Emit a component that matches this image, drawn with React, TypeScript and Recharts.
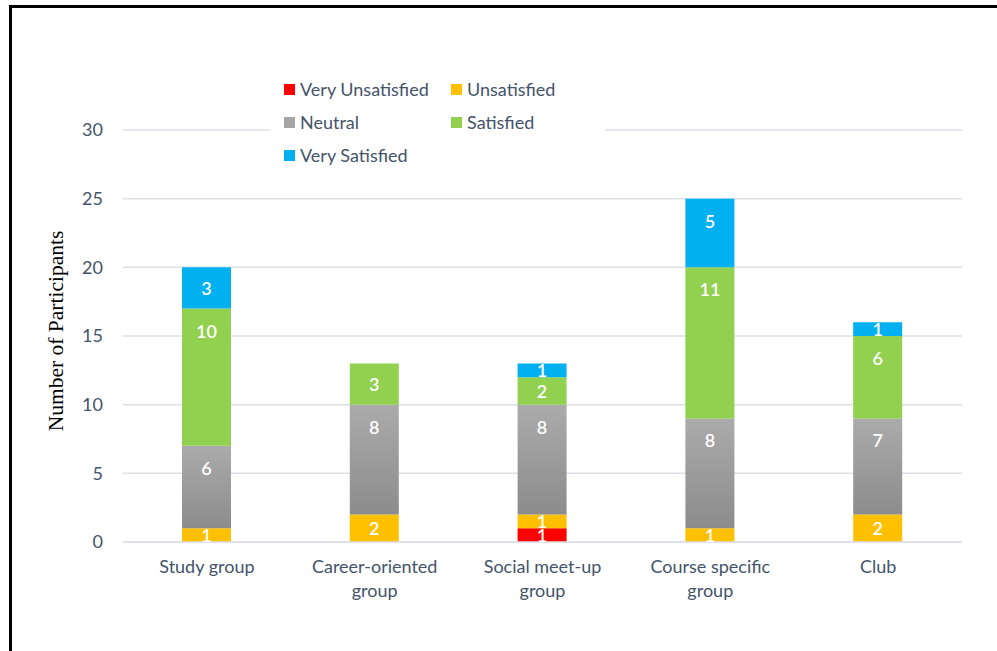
import React from "react";
import { BarChart, Bar, XAxis, YAxis, CartesianGrid, Legend, LabelList } from "recharts";

const categories = ["Study group", "Career-oriented group", "Social meet-up group", "Course specific group", "Club"];
const tickLines: Record<string, string[]> = {
  "Study group": ["Study group"],
  "Career-oriented group": ["Career-oriented", "group"],
  "Social meet-up group": ["Social meet-up", "group"],
  "Course specific group": ["Course specific", "group"],
  "Club": ["Club"],
};
const veryUnsatisfied = [0, 0, 1, 0, 0];
const unsatisfied = [1, 2, 1, 1, 2];
const neutral = [6, 8, 8, 8, 7];
const satisfied = [10, 3, 2, 11, 6];
const verySatisfied = [3, 0, 1, 5, 1];
const yTicks = [0, 5, 10, 15, 20, 25, 30];

const seriesNames = ["Very Unsatisfied", "Unsatisfied", "Neutral", "Satisfied", "Very Satisfied"];
const seriesKeys = ["vu", "u", "n", "s", "vs"];
const seriesColors = ["#FF0000", "#FFC000", "#A5A5A5", "#92D050", "#00B0F0"];

const data = categories.map((c, i) => ({
  name: c,
  vu: veryUnsatisfied[i],
  u: unsatisfied[i],
  n: neutral[i],
  s: satisfied[i],
  vs: verySatisfied[i],
}));

const FONT = "Lato, 'Noto Sans', sans-serif";
const TEXT = "#44546A";

const SegLabel = (props: any) => {
  const { x, y, width, height, value } = props;
  if (!value) return null;
  const cy = y + Math.min(22, height / 2);
  return (
    <text x={x + width / 2} y={cy} fill="#fff" fontSize={18} fontWeight={600} fontFamily={FONT}
      textAnchor="middle" dominantBaseline="central">{value}</text>
  );
};

const XTick = (props: any) => {
  const { x, y, payload } = props;
  const lines = tickLines[payload.value] || [payload.value];
  return (
    <g>
      {lines.map((l, i) => (
        <text key={i} x={x} y={y + 22 + i * 24} fill={TEXT} fontSize={18} fontFamily={FONT}
          textAnchor="middle" dominantBaseline="central">{l}</text>
      ))}
    </g>
  );
};

const LegendContent = () => (
  <div style={{ position: "relative", width: 335, height: 98, background: "#fff", fontFamily: FONT, fontSize: 18, color: TEXT }}>
    {seriesNames.map((n, i) => {
      const col = i % 2;
      const row = Math.floor(i / 2);
      return (
        <div key={n} style={{ position: "absolute", left: 14 + col * 167, top: 6 + row * 33, height: 22, display: "flex", alignItems: "center", whiteSpace: "nowrap" }}>
          <span style={{ display: "inline-block", width: 11, height: 11, background: seriesColors[i], marginRight: 5 }} />
          <span>{n}</span>
        </div>
      );
    })}
  </div>
);

export default function App() {
  return (
    <div style={{ position: "absolute", left: 0, top: 0, width: 997, height: 651, overflow: "hidden", background: "#fff" }}>
      <div style={{ position: "absolute", left: 9, top: 5, width: 1200, height: 900, border: "3px solid #000", boxSizing: "border-box" }} />
      <div style={{ position: "absolute", left: 0, top: 0 }}>
        <BarChart width={997} height={651} data={data} margin={{ top: 130, right: 35, bottom: 49, left: 63 }} barSize={49}>
          <defs>
            <linearGradient id="neutralGrad" x1="0" y1="0" x2="0" y2="1">
              <stop offset="0%" stopColor="#ABABAB" />
              <stop offset="100%" stopColor="#8C8C8C" />
            </linearGradient>
          </defs>
          <CartesianGrid vertical={false} stroke="#DCE0E8" strokeWidth={1.5} />
          <XAxis dataKey="name" tick={<XTick />} tickLine={false} axisLine={{ stroke: "#DCE0E8", strokeWidth: 1.5 }} height={60} tickSize={0} interval={0} />
          <YAxis domain={[0, 30]} ticks={yTicks} tickLine={false} axisLine={false} width={60} tickSize={0} tickMargin={20}
            tick={{ fill: TEXT, fontSize: 18, fontFamily: FONT }}
            label={{
              content: () => (
                <text x={56} y={331} transform="rotate(-90 56 331)" textAnchor="middle" dominantBaseline="central"
                  fontFamily="'Liberation Serif', 'Times New Roman', serif" fontSize={21.5} fill="#000">Number of Participants</text>
              ),
            }} />
          <Legend layout="horizontal" verticalAlign="middle" align="center" content={<LegendContent />}
            wrapperStyle={{ position: "absolute", left: 270, top: 72, width: 335, height: 98 }} />
          {seriesKeys.map((k, i) => (
            <Bar key={k} dataKey={k} name={seriesNames[i]} stackId="a" fill={k === "n" ? "url(#neutralGrad)" : seriesColors[i]} isAnimationActive={false}>
              <LabelList dataKey={k} content={<SegLabel />} />
            </Bar>
          ))}
        </BarChart>
      </div>
    </div>
  );
}
